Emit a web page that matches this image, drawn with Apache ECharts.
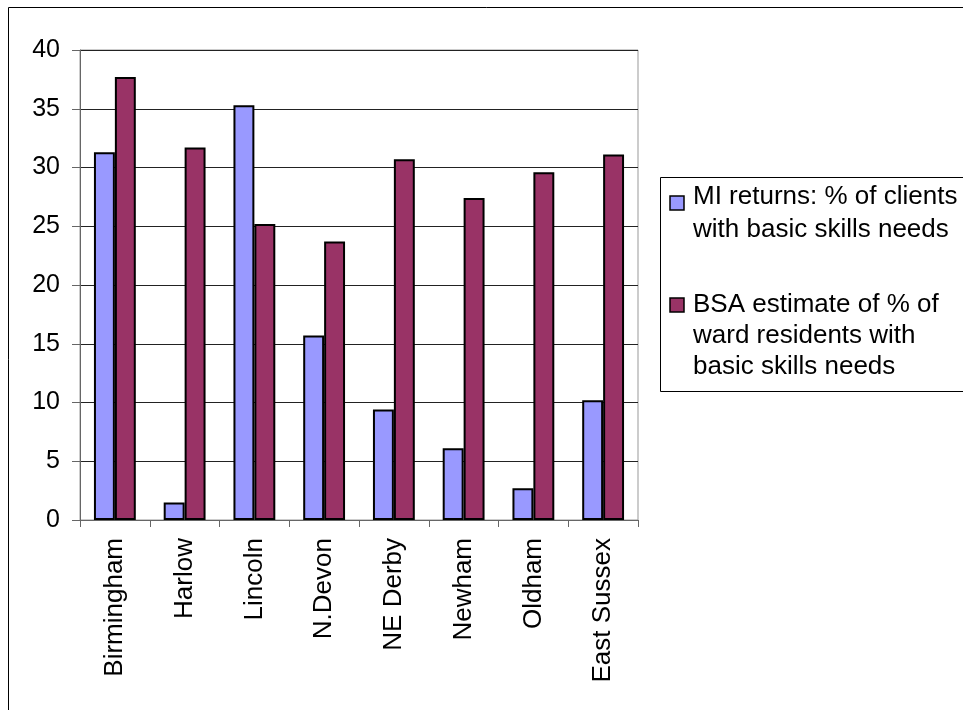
<!DOCTYPE html>
<html>
<head>
<meta charset="utf-8">
<script src="https://cdn.jsdelivr.net/npm/echarts@6/dist/echarts.min.js"></script>
<style>
  html, body { margin: 0; padding: 0; background: #fff; }
  #main { width: 963px; height: 710px; }
</style>
</head>
<body>
<div id="main"></div>
<script>
var areas = ['Birmingham', 'Harlow', 'Lincoln', 'N.Devon', 'NE Derby', 'Newham', 'Oldham', 'East Sussex'];
var miReturns = [31.3, 1.5, 35.3, 15.7, 9.4, 6.1, 2.7, 10.2];
var bsaEstimate = [37.7, 31.7, 25.2, 23.7, 30.7, 27.4, 29.6, 31.1];
var yTicks = [0, 5, 10, 15, 20, 25, 30, 35, 40];

var miName = 'MI returns: % of clients\nwith basic skills needs';
var bsaName = 'BSA estimate of % of\nward residents with\nbasic skills needs';

var font = 'Liberation Sans, Arial, sans-serif';
var myChart = echarts.init(document.getElementById('main'));

myChart.setOption({
  animation: false,
  backgroundColor: '#fff',
  grid: { left: 80, top: 50, right: 325, bottom: 190, show: true, borderColor: '#999', borderWidth: 1 },
  xAxis: {
    type: 'category',
    data: areas,
    axisLine: { lineStyle: { color: '#666', width: 1 } },
    axisTick: { show: true, length: 7, lineStyle: { color: '#666' } },
    axisLabel: { rotate: 90, fontSize: 26, color: '#000', fontFamily: font, margin: 18 }
  },
  yAxis: {
    type: 'value',
    min: yTicks[0],
    max: yTicks[yTicks.length - 1],
    interval: 5,
    axisLine: { show: true, lineStyle: { color: '#666', width: 1 } },
    axisTick: { show: true, length: 8, lineStyle: { color: '#666' } },
    axisLabel: { fontSize: 25, color: '#000', fontFamily: font, margin: 20 },
    splitLine: { lineStyle: { color: '#222', width: 1 } }
  },
  legend: { show: false },
  series: [
    {
      name: miName,
      type: 'bar',
      data: miReturns,
      barCategoryGap: '40%',
      barGap: '0%',
      itemStyle: { color: '#9999FF', borderColor: '#000', borderWidth: 2 }
    },
    {
      name: bsaName,
      type: 'bar',
      data: bsaEstimate,
      itemStyle: { color: '#993366', borderColor: '#000', borderWidth: 2 }
    }
  ],
  graphic: [
    { type: 'rect', shape: { x: 8.5, y: 7.5, width: 1000, height: 1000 }, style: { fill: 'none', stroke: '#000', lineWidth: 1 }, z: 100 },
    { type: 'rect', shape: { x: 660.5, y: 177.5, width: 320, height: 214 }, style: { fill: '#fff', stroke: '#000', lineWidth: 1 } },
    { type: 'rect', shape: { x: 670, y: 196, width: 14, height: 14 }, style: { fill: '#9999FF', stroke: '#000', lineWidth: 1.5 } },
    { type: 'text', x: 693, y: 180, style: { text: miName, font: '26px ' + font, fill: '#000', lineHeight: 33 } },
    { type: 'rect', shape: { x: 670, y: 298, width: 14, height: 14 }, style: { fill: '#993366', stroke: '#000', lineWidth: 1.5 } },
    { type: 'text', x: 693, y: 289, style: { text: bsaName, font: '26px ' + font, fill: '#000', lineHeight: 31 } }
  ]
});
</script>
</body>
</html>
